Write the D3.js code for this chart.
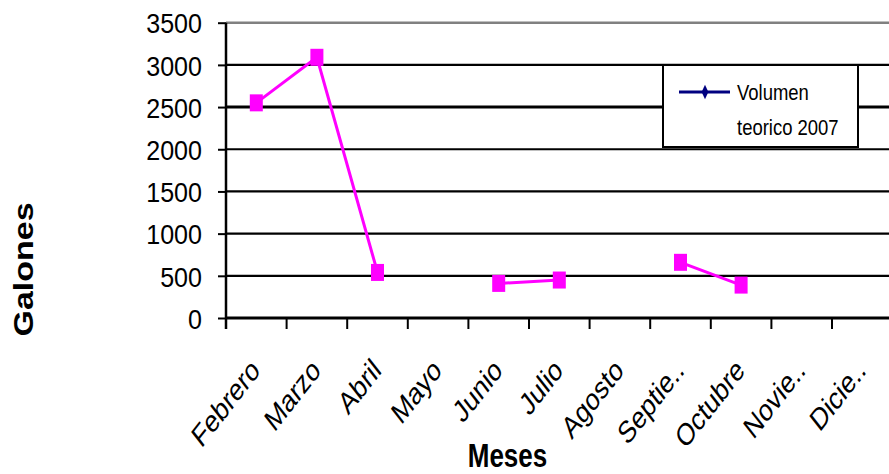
<!DOCTYPE html>
<html>
<head>
<meta charset="utf-8">
<script src="https://cdn.jsdelivr.net/npm/d3@7"></script>
<style>
  html, body { margin: 0; padding: 0; background: #fff; }
  svg { display: block; }
  text { font-family: "Liberation Sans", Arial, sans-serif; fill: #000; }
</style>
</head>
<body>
<svg id="chart" width="889" height="474"></svg>
<script>
// Monthly theoretical volume, 2007 (gallons); null = no reading that month
const months = ["Febrero", "Marzo", "Abril", "Mayo", "Junio", "Julio", "Agosto",
                "Septiembre", "Octubre", "Noviembre", "Diciembre"];
const monthLabels = ["Febrero", "Marzo", "Abril", "Mayo", "Junio", "Julio", "Agosto",
                     "Septie..", "Octubre", "Novie..", "Dicie.."];
const volumen = [2550, 3090, 540, null, 410, 450, null, 660, 390, null, null];
const yTicks = [0, 500, 1000, 1500, 2000, 2500, 3000, 3500];
const seriesName = ["Volumen", "teorico 2007"];
const yTitle = "Galones";
const xTitle = "Meses";

const svg = d3.select("#chart");

const x = d3.scaleBand().domain(months).range([226, 892.6]).padding(0);
const y = d3.scaleLinear().domain([0, 3500]).range([318, 22.7]);

// horizontal gridlines
svg.append("g")
  .selectAll("line")
  .data(yTicks.filter(v => v > 0 && v < 3500))
  .join("line")
  .attr("x1", x.range()[0]).attr("x2", x.range()[1])
  .attr("y1", d => y(d)).attr("y2", d => y(d))
  .attr("stroke", "#000")
  .attr("stroke-width", d => d === 2500 ? 3 : 2.2);

// top frame line
svg.append("line")
  .attr("x1", x.range()[0]).attr("x2", x.range()[1])
  .attr("y1", y(3500)).attr("y2", y(3500))
  .attr("stroke", "#808080").attr("stroke-width", 2.5);

// y axis
const yAxis = svg.append("g")
  .attr("transform", `translate(${x.range()[0]},0)`)
  .call(d3.axisLeft(y).tickValues(yTicks).tickFormat(d3.format("d"))
    .tickSizeInner(8).tickSizeOuter(0).tickPadding(24));
yAxis.select(".domain").attr("stroke", "#000").attr("stroke-width", 2.5)
  .attr("d", `M0,${y(3500)}V${y(0) + 11}`);
yAxis.selectAll(".tick line").attr("stroke", "#000").attr("stroke-width", 2);
yAxis.selectAll(".tick text")
  .attr("font-size", 28.5)
  .attr("dy", "0.36em")
  .attr("x", null)
  .attr("transform", "translate(-24,0) scale(0.88,1)")
  .attr("font-family", "Liberation Sans, Arial, sans-serif");

// x axis line and category boundary ticks
svg.append("line")
  .attr("x1", x.range()[0]).attr("x2", x.range()[1])
  .attr("y1", y(0)).attr("y2", y(0))
  .attr("stroke", "#000").attr("stroke-width", 3);
svg.append("g")
  .selectAll("line")
  .data(months)
  .join("line")
  .attr("x1", d => x(d)).attr("x2", d => x(d))
  .attr("y1", y(0)).attr("y2", y(0) + 11)
  .attr("stroke", "#000").attr("stroke-width", 2);

// rotated month labels (horizontally condensed)
svg.append("g")
  .selectAll("text")
  .data(months)
  .join("text")
  .attr("transform", d =>
    `translate(${x(d) + x.bandwidth() / 2 + 5},372) scale(0.78,1) rotate(-45)`)
  .attr("text-anchor", "end")
  .attr("font-size", 31)
  .text((d, i) => monthLabels[i]);

// series line (gaps where there is no value)
const line = d3.line()
  .defined(d => d.v != null)
  .x(d => x(d.m) + x.bandwidth() / 2)
  .y(d => y(d.v));
const pts = months.map((m, i) => ({ m, v: volumen[i] }));
svg.append("path")
  .datum(pts)
  .attr("d", line)
  .attr("fill", "none")
  .attr("stroke", "#FF00FF")
  .attr("stroke-width", 3);

// square markers
svg.append("g")
  .selectAll("rect")
  .data(pts.filter(d => d.v != null))
  .join("rect")
  .attr("x", d => x(d.m) + x.bandwidth() / 2 - 6.5)
  .attr("y", d => y(d.v) - 8.5)
  .attr("width", 13)
  .attr("height", 17)
  .attr("fill", "#FF00FF");

// legend
const lg = svg.append("g");
lg.append("rect")
  .attr("x", 663).attr("y", 65).attr("width", 195).attr("height", 82)
  .attr("fill", "#fff").attr("stroke", "#000").attr("stroke-width", 2);
lg.append("line")
  .attr("x1", 679).attr("x2", 730).attr("y1", 92).attr("y2", 92)
  .attr("stroke", "#000080").attr("stroke-width", 3);
lg.append("path")
  .attr("d", d3.symbol(d3.symbolDiamond, 60)())
  .attr("transform", "translate(705,92) scale(0.8,1)")
  .attr("fill", "#000080");
lg.selectAll("text")
  .data(seriesName)
  .join("text")
  .attr("transform", (d, i) => `translate(737,${100 + i * 35}) scale(0.88,1.05)`)
  .attr("font-size", 21)
  .text(d => d);

// axis titles
svg.append("text")
  .attr("transform", "translate(33,269.5) scale(0.8,1) rotate(-90)")
  .attr("text-anchor", "middle")
  .attr("font-size", 34)
  .attr("font-weight", "bold")
  .text(yTitle);
svg.append("text")
  .attr("transform", "translate(507.5,467) scale(0.8,1)")
  .attr("text-anchor", "middle")
  .attr("font-size", 32.5)
  .attr("font-weight", "bold")
  .text(xTitle);
</script>
</body>
</html>
